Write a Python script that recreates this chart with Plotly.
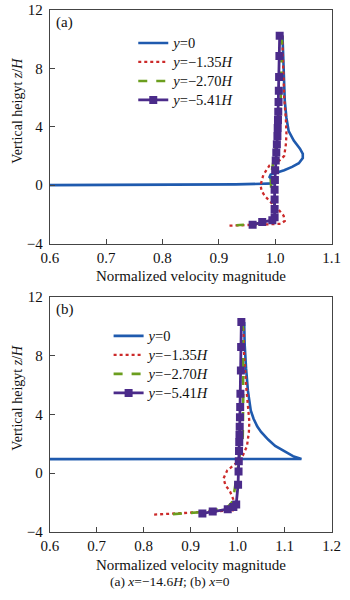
import plotly.graph_objects as go

# ---------------- data: panel (a) x = -14.6H ----------------
blue_a_x = [0.600, 0.800, 0.930, 1.000, 0.990, 0.992, 1.004, 1.016, 1.030, 1.042, 1.049, 1.049, 1.044, 1.033, 1.024, 1.020, 1.017, 1.015, 1.013]
blue_a_z = [0.00, 0.02, 0.05, 0.12, 0.55, 0.72, 0.85, 1.02, 1.25, 1.50, 1.85, 2.15, 2.50, 3.05, 3.70, 4.60, 5.80, 7.80, 10.25]

red_a_x = [1.0125, 1.014, 1.016, 1.019, 1.020, 1.019, 1.016, 1.008, 0.990, 0.979, 0.974, 0.976, 0.982, 0.993, 1.005, 1.015, 1.017, 1.010, 0.970, 0.915]
red_a_z = [10.25, 8.0, 6.0, 4.5, 3.5, 2.8, 2.0, 1.7, 1.35, 0.7, 0.0, -0.4, -0.76, -1.2, -1.64, -2.09, -2.45, -2.65, -2.72, -2.78]

green_a_x = [1.012, 1.011, 1.010, 1.007, 1.001, 0.995, 0.992, 0.993, 0.997, 1.000, 0.998, 0.990, 0.960, 0.931]
green_a_z = [10.25, 8.0, 6.0, 4.0, 2.5, 1.3, 0.5, -0.3, -1.0, -1.6, -2.3, -2.55, -2.68, -2.75]

purple_a_x = [1.008, 1.0075, 1.007, 1.0065, 1.006, 1.0055, 1.005, 1.0045, 1.004, 1.003, 1.002, 1.001, 1.000, 0.9995, 0.999, 0.999, 0.999, 0.999, 0.995, 0.977, 0.960]
purple_a_z = [10.24, 8.84, 7.4, 6.47, 5.69, 5.02, 4.47, 3.91, 3.36, 2.8, 2.24, 1.69, 1.02, 0.36, -0.31, -0.98, -1.64, -2.2, -2.4, -2.53, -2.71]

# ---------------- data: panel (b) x = 0 ----------------
blue_b_x = [0.600, 0.900, 1.136, 1.118, 1.099, 1.080, 1.065, 1.050, 1.042, 1.034, 1.028, 1.022, 1.018, 1.015, 1.014]
blue_b_z = [0.95, 0.95, 0.96, 1.15, 1.5, 1.85, 2.28, 2.8, 3.17, 3.7, 4.27, 5.6, 7.15, 8.8, 10.3]

red_b_x = [1.012, 1.014, 1.018, 1.023, 1.025, 1.024, 1.020, 1.011, 0.995, 0.978, 0.970, 0.974, 0.984, 0.991, 0.994, 0.990, 0.900, 0.819]
red_b_z = [10.3, 8.0, 6.0, 4.5, 3.5, 2.8, 1.84, 1.18, 0.62, 0.18, -0.37, -0.82, -1.26, -1.81, -2.2, -2.55, -2.72, -2.84]

green_b_x = [1.011, 1.012, 1.012, 1.011, 1.005, 0.998, 0.993, 0.988, 0.978, 0.930, 0.856]
green_b_z = [10.3, 8.0, 5.0, 2.5, 1.18, -0.15, -1.26, -2.0, -2.35, -2.65, -2.82]

purple_b_x = [1.008, 1.0075, 1.007, 1.006, 1.0055, 1.005, 1.0045, 1.004, 1.0035, 1.003, 1.0025, 1.002, 1.001, 0.997, 0.991, 0.979, 0.947, 0.925]
purple_b_z = [10.3, 8.6, 7.0, 5.4, 4.5, 3.8, 3.15, 2.6, 2.1, 1.5, 0.8, 0.1, -0.8, -2.14, -2.32, -2.47, -2.63, -2.76]

series_names = ["<i>y</i>=0", "<i>y</i>=−1.35<i>H</i>", "<i>y</i>=−2.70<i>H</i>", "<i>y</i>=−5.41<i>H</i>"]
y_ticks = [-4, 0, 4, 8, 12]
x_ticks_a = [0.6, 0.7, 0.8, 0.9, 1.0, 1.1]
x_ticks_b = [0.6, 0.7, 0.8, 0.9, 1.0, 1.1, 1.2]

BLUE = "#1f5aae"
RED = "#cc2a2a"
GREEN = "#6b9e1e"
PURPLE = "#4b2b8a"
SERIF = "Liberation Serif, Times New Roman, serif"

fig = go.Figure()

def add_panel(xs, zs, xaxis, yaxis, legend):
    styles = [
        dict(color=BLUE, width=2.6, dash="solid"),
        dict(color=RED, width=2.3, dash="dot"),
        dict(color=GREEN, width=2.6, dash="dash"),
        dict(color=PURPLE, width=2.8, dash="solid"),
    ]
    for i, (x, z) in enumerate(zip(xs, zs)):
        fig.add_trace(go.Scatter(
            x=x, y=z, xaxis=xaxis, yaxis=yaxis, legend=legend,
            mode="lines+markers" if i == 3 else "lines",
            name=f'<span style="font-size:14.5px">{series_names[i]}</span>',
            line=styles[i],
            marker=dict(symbol="square", size=8, color=PURPLE) if i == 3 else None,
        ))

add_panel([blue_a_x, red_a_x, green_a_x, purple_a_x], [blue_a_z, red_a_z, green_a_z, purple_a_z], "x", "y", "legend")
add_panel([blue_b_x, red_b_x, green_b_x, purple_b_x], [blue_b_z, red_b_z, green_b_z, purple_b_z], "x2", "y2", "legend2")

W, H = 350, 600
xdom = [43 / W, 340 / W]
ydom_a = [1 - 242 / H, 1 - 2 / H]
ydom_b = [1 - 538 / H, 1 - 297 / H]

axis_common = dict(showline=True, mirror=True, linecolor="#444", linewidth=1,
                   ticks="inside", ticklen=5, tickcolor="#444", showgrid=False, zeroline=False,
                   tickfont=dict(family=SERIF, size=15, color="#111"))

fig.update_layout(
    width=W, height=H, margin=dict(l=0, r=0, t=0, b=0),
    paper_bgcolor="white", plot_bgcolor="white", showlegend=True,
    xaxis=dict(domain=xdom, anchor="y", range=[0.6, 1.1], tickvals=x_ticks_a, tickformat=".1f", **axis_common),
    yaxis=dict(domain=ydom_a, anchor="x", range=[-4, 12], tickvals=y_ticks, ticklabelstandoff=3, **axis_common),
    xaxis2=dict(domain=xdom, anchor="y2", range=[0.6, 1.2], tickvals=x_ticks_b, tickformat=".1f", **axis_common),
    yaxis2=dict(domain=ydom_b, anchor="x2", range=[-4, 12], tickvals=y_ticks, ticklabelstandoff=3, **axis_common),
    legend=dict(x=131 / W, y=1 - 21 / H, xanchor="left", yanchor="top", bgcolor="rgba(0,0,0,0)",
                font=dict(family=SERIF, size=12, color="#111"), tracegroupgap=0),
    legend2=dict(x=105 / W, y=1 - 322 / H, xanchor="left", yanchor="top", bgcolor="rgba(0,0,0,0)",
                 font=dict(family=SERIF, size=12, color="#111"), tracegroupgap=0),
    font=dict(family=SERIF, color="#111"),
)

ann = [
    dict(text="(a)", x=47 / W, y=1 - 15 / H, xanchor="left", yanchor="middle", font=dict(size=15)),
    dict(text="(b)", x=47 / W, y=1 - 310 / H, xanchor="left", yanchor="middle", font=dict(size=15)),
    dict(text="Normalized velocity magnitude", x=192 / W, y=1 - 275 / H, xanchor="center", yanchor="middle", font=dict(size=15)),
    dict(text="Normalized velocity magnitude", x=192 / W, y=1 - 572 / H, xanchor="center", yanchor="middle", font=dict(size=15)),
    dict(text="Vertical heigyt <i>z</i>/<i>H</i>", x=9 / W, y=1 - 106 / H, xanchor="center", yanchor="middle", textangle=-90, font=dict(size=14)),
    dict(text="Vertical heigyt <i>z</i>/<i>H</i>", x=9 / W, y=1 - 401 / H, xanchor="center", yanchor="middle", textangle=-90, font=dict(size=14)),
    dict(text="(a) <i>x</i>=−14.6<i>H</i>; (b) <i>x</i>=0", x=170 / W, y=1 - 589 / H, xanchor="center", yanchor="middle", font=dict(size=13.5)),
]
for a in ann:
    a.update(xref="paper", yref="paper", showarrow=False)
    a["font"] = dict(family=SERIF, color="#111", **a["font"])
    fig.add_annotation(**a)

fig.write_html("out.html")
